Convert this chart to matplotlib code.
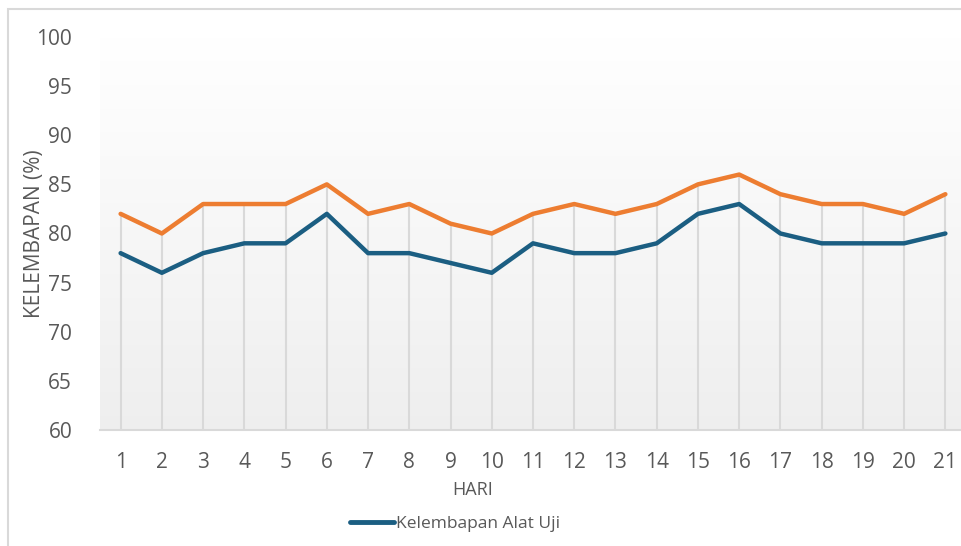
import numpy as np
import matplotlib
matplotlib.use("Agg")
import matplotlib.pyplot as plt
from matplotlib.patches import Rectangle
from matplotlib.lines import Line2D

plt.rcParams["font.family"] = ["Open Sans", "DejaVu Sans"]

hari = list(range(1, 22))
kelembapan_standar = [82, 80, 83, 83, 83, 85, 82, 83, 81, 80, 82, 83, 82, 83, 85, 86, 84, 83, 83, 82, 84]
kelembapan_alat_uji = [78, 76, 78, 79, 79, 82, 78, 78, 77, 76, 79, 78, 78, 79, 82, 83, 80, 79, 79, 79, 80]
y_ticks = [60, 65, 70, 75, 80, 85, 90, 95, 100]

text_color = "#595959"
blue = "#1b5e82"
orange = "#ed7d31"

fig = plt.figure(figsize=(9.61, 5.46), dpi=100)
ax = fig.add_axes([100 / 961, 1 - 430 / 546, 866 / 961, 393 / 546])

# gradient plot area background: white at top to light grey at bottom
shade = np.linspace(1.0, 0.935, 256)
grad = np.dstack([shade, shade, shade]).reshape(256, 1, 3)
ax.imshow(grad, extent=[0.5, 21.5, 60, 100], aspect="auto", zorder=0,
          origin="upper", interpolation="bilinear")

# drop lines from the higher series
top = [max(a, b) for a, b in zip(kelembapan_standar, kelembapan_alat_uji)]
ax.vlines(hari, 60, top, color="#d9d9d9", lw=1.5, zorder=1)

ax.plot(hari, kelembapan_standar, color=orange, lw=3.2, zorder=3,
        solid_capstyle="round", solid_joinstyle="round")
ax.plot(hari, kelembapan_alat_uji, color=blue, lw=3.2, zorder=3,
        solid_capstyle="round", solid_joinstyle="round")

ax.set_xlim(0.5, 21.5)
ax.set_ylim(60, 100)
ax.set_xticks(hari)
ax.set_yticks(y_ticks)
ax.tick_params(length=0, labelsize=15, colors=text_color)
ax.tick_params(axis="x", pad=16)
ax.tick_params(axis="y", pad=20)
for s in ["top", "right", "left"]:
    ax.spines[s].set_visible(False)
ax.spines["bottom"].set_color("#d9d9d9")
ax.spines["bottom"].set_linewidth(1.5)

fig.text(35 / 961, 1 - 234 / 546, "KELEMBAPAN (%)", rotation=90, ha="center",
         va="center", fontsize=15, color=text_color)
fig.text(473 / 961, 1 - 490 / 546, "HARI", ha="center", va="center",
         fontsize=13, color=text_color)

handle = Line2D([], [], color=blue, lw=3.5, solid_capstyle="round")
fig.legend([handle], ["Kelembapan Alat Uji"], loc="center",
           bbox_to_anchor=(455 / 961, 1 - 524 / 546), frameon=False,
           fontsize=12.5, labelcolor=text_color, handlelength=2.5,
           handletextpad=0.1)

# chart border (cropped at right and bottom)
fig.patches.append(Rectangle((8 / 961, -0.1), 1.2, 1 - 9 / 546 + 0.1,
                             transform=fig.transFigure, fill=False,
                             edgecolor="#d9d9d9", lw=1.5))

fig.savefig("out.png", dpi=100)
